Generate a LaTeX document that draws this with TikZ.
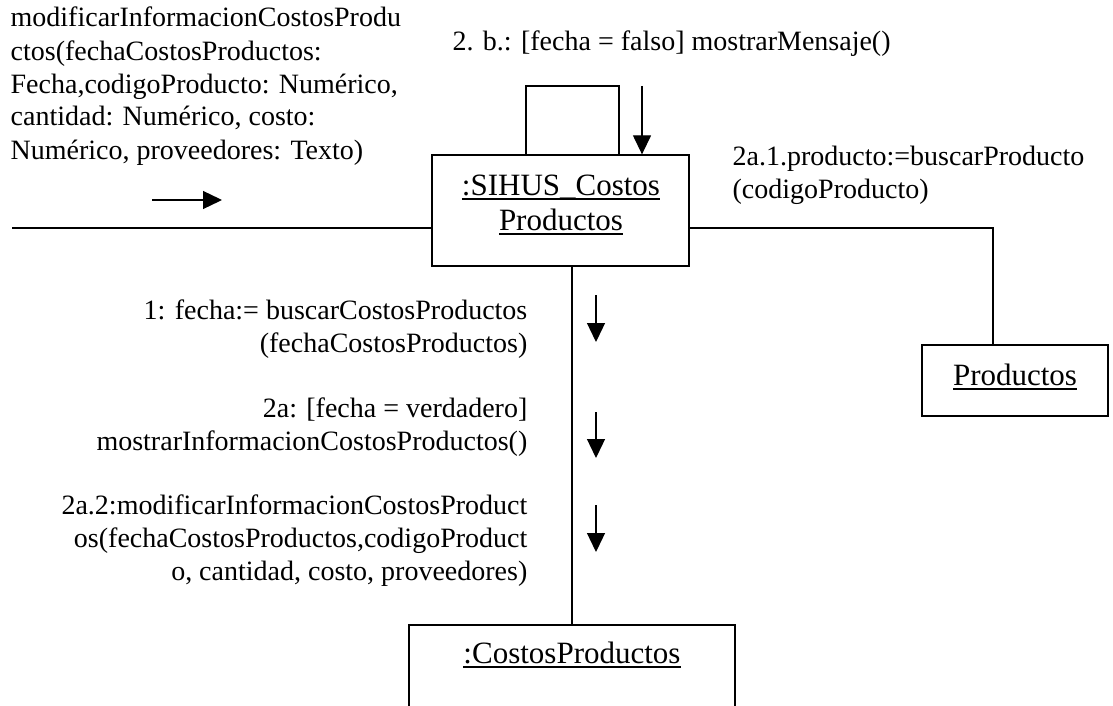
\documentclass[tikz,border=0pt]{standalone}
\usepackage{fontspec}
\setmainfont{Liberation Serif}
\usetikzlibrary{arrows.meta}
\newsavebox\myulbox
\newcommand\myul[1]{\sbox\myulbox{#1}\rlap{\rule[-4.5pt]{\wd\myulbox}{1.4pt}}\usebox\myulbox}
\begin{document}
\begin{tikzpicture}[x=1pt,y=-1pt,line width=1.3pt,
  lbl/.style={font=\fontsize{28}{33}\selectfont, inner sep=0pt},
  boxtxt/.style={font=\fontsize{31}{35}\selectfont, inner sep=0pt},
  obj/.style={draw, line width=1.3pt, inner sep=0pt},
  msg/.style={-{Triangle[length=19pt,width=18pt]}, line width=1.3pt}]
\clip (0,0) rectangle (1113,706);
\fill[white] (0,0) rectangle (1113,706);

% objects
\node[obj, minimum width=257pt, minimum height=111pt] (main) at (560.5,210.5) {};
\node[obj, minimum width=186pt, minimum height=71pt] (prod) at (1015,380.5) {};
\node[obj, minimum width=326pt, minimum height=110pt] (cp) at (572,680) {};

\node[boxtxt, anchor=base] (mainA) at (561,195) {\myul{:SIHUS\_Costos}};
\node[boxtxt, anchor=base] (mainB) at (561,230) {\myul{Productos}};
\node[boxtxt, anchor=base] (prodL) at (1015,385) {\myul{Productos}};
\node[boxtxt, anchor=base] (cpL) at (572,663) {\myul{:CostosProductos}};

% links
\coordinate (lw) at (12,228);
\draw (lw) -- (lw -| main.west);
\coordinate (rc) at (993,228);
\draw (rc -| main.east) -- (rc) -- (rc |- prod.north);
\coordinate (vc) at (572,0);
\draw (vc |- main.south) -- (vc |- cp.north);
\coordinate (la) at (526,86);
\coordinate (lb) at (619,86);
\draw (la |- main.north) -- (la) -- (lb) -- (lb |- main.north);

% message arrows
\coordinate (ta) at (642,86);
\draw[msg] (ta) -- (ta |- main.north);
\coordinate (sa) at (152,200);
\coordinate (sb) at (222,200);
\draw[msg] (sa) -- (sb);
\coordinate (m1a) at (596,295);
\coordinate (m1b) at (596,342);
\draw[msg] (m1a) -- (m1b);
\coordinate (m2a) at (596,412);
\coordinate (m2b) at (596,458);
\draw[msg] (m2a) -- (m2b);
\coordinate (m3a) at (596,505);
\coordinate (m3b) at (596,552);
\draw[msg] (m3a) -- (m3b);

% labels (base anchor = baseline of the last line)
\node[lbl, anchor=base west, align=left] (t0) at (10,159)
  {modificarInformacionCostosProdu\\ctos(fechaCostosProductos:\\Fecha,codigoProducto: Numérico,\\cantidad: Numérico, costo:\\Numérico, proveedores: Texto)};
\node[lbl, anchor=base west] (t2b) at (452,51) {2. b.: [fecha = falso] mostrarMensaje()};
\node[lbl, anchor=base west, align=left] (t2a1) at (732,198) {2a.1.producto:=buscarProducto\\(codigoProducto)};
\node[lbl, anchor=base east, align=right] (t1) at (528,352) {1: fecha:= buscarCostosProductos\\(fechaCostosProductos)};
\node[lbl, anchor=base east, align=right] (t2a) at (528,450) {2a: [fecha = verdadero]\\mostrarInformacionCostosProductos()};
\node[lbl, anchor=base east, align=right] (t2a2) at (528,580) {2a.2:modificarInformacionCostosProduct\\os(fechaCostosProductos,codigoProduct\\o, cantidad, costo, proveedores)};
\end{tikzpicture}
\end{document}
